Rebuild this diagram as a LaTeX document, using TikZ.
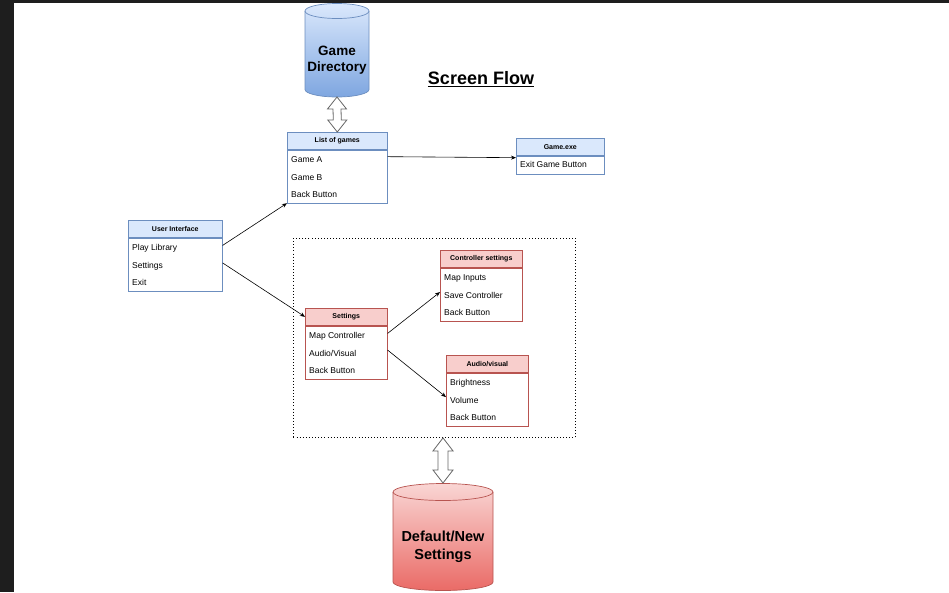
\documentclass[tikz,border=0pt]{standalone}
\usepackage{fontspec}
\setmainfont{Liberation Sans}
\usepackage{tikz}
\usetikzlibrary{calc,positioning,arrows.meta}
\definecolor{hdrblue}{HTML}{DAE8FC}
\definecolor{lnblue}{HTML}{6C8EBF}
\definecolor{cylblue}{HTML}{7EA6E0}
\definecolor{hdrred}{HTML}{F8CECC}
\definecolor{lnred}{HTML}{B85450}
\definecolor{cylred}{HTML}{EA6B66}
\definecolor{frame}{HTML}{1E1E1E}
\tikzset{
 sf hdr/.style={rectangle,draw,inner sep=0pt,minimum height=17pt,anchor=north west,
                font=\fontsize{7}{8}\selectfont\bfseries,line width=.6pt},
 sf hdr blue/.style={sf hdr,fill=hdrblue,draw=lnblue},
 sf hdr red/.style={sf hdr,fill=hdrred,draw=lnred},
 sf body/.style={rectangle,draw,fill=white,inner sep=0pt,minimum height=53pt,
                 anchor=north west,line width=.6pt},
 sf item/.style={anchor=base west,inner sep=0pt,font=\fontsize{8.5}{10}\selectfont},
 sf flow/.style={line width=.6pt,-{Stealth[length=5pt,width=4pt]}},
 sf hollow/.style={draw=black!60,fill=white,line width=.8pt,line join=miter},
 sf group/.style={rectangle,draw,dash pattern=on .9pt off 2.2pt,line width=.9pt,
                  anchor=north west,inner sep=0pt},
 sf cyl text/.style={font=\fontsize{13.5}{16}\selectfont\bfseries,align=center}
}

\begin{document}
\begin{tikzpicture}[x=1pt,y=1pt]
 \useasboundingbox (0,0) rectangle (949,-592);
 \clip (0,0) rectangle (949,-592);
 \fill[frame] (0,0) rectangle (14,-592);
 \fill[frame] (0,0) rectangle (949,-3);

 % game directory cylinder
 \shade[top color=hdrblue,bottom color=cylblue,draw=lnblue,line width=.7pt]
   (305,-11) -- (305,-89.5) arc[start angle=180,end angle=360,x radius=32,y radius=7.5]
   -- (369,-11) arc[start angle=0,end angle=180,x radius=32,y radius=7.5] -- cycle;
 \draw[lnblue,line width=.7pt] (305,-11) arc[start angle=180,end angle=360,x radius=32,y radius=7.5];
 \node[sf cyl text] (gdir) at (337,-60) {Game\\Directory};
 \coordinate (gdirb) at (337,-97);

 % default settings cylinder
 \shade[top color=hdrred!85,bottom color=cylred,draw=lnred,line width=.7pt]
   (393,-492) -- (393,-582) arc[start angle=180,end angle=360,x radius=50,y radius=8.5]
   -- (493,-492) arc[start angle=0,end angle=180,x radius=50,y radius=8.5] -- cycle;
 \draw[lnred,line width=.7pt] (393,-492) arc[start angle=180,end angle=360,x radius=50,y radius=8.5];
 \node[sf cyl text,font=\fontsize{14.5}{18}\selectfont\bfseries] (dns) at (443,-547) {Default/New\\Settings};
 \coordinate (dnst) at (443,-483);

 \node[font=\fontsize{18}{20}\selectfont\bfseries] (ttl) at (481,-79) {\underline{Screen Flow}};

 % settings group
 \node[sf group,minimum width=282pt,minimum height=199pt] (grp) at (293,-238) {};

 % screens
 \node[sf hdr blue,minimum width=100pt] (lsth) at (287,-132) {List of games};
 \node[sf body,draw=lnblue,minimum width=100pt] (lstb) at (lsth.south west) {};
 \node[sf hdr blue,minimum width=88pt] (exeh) at (516,-138) {Game.exe};
 \node[sf body,draw=lnblue,minimum width=88pt,minimum height=18pt] (exeb) at (exeh.south west) {};
 \node[sf hdr blue,minimum width=94pt] (uih) at (128,-220) {User Interface};
 \node[sf body,draw=lnblue,minimum width=94pt] (uib) at (uih.south west) {};
 \node[sf hdr red,minimum width=82pt] (seth) at (305,-308) {Settings};
 \node[sf body,draw=lnred,minimum width=82pt] (setb) at (seth.south west) {};
 \node[sf hdr red,minimum width=82pt] (ctlh) at (440,-250) {Controller settings};
 \node[sf body,draw=lnred,minimum width=82pt] (ctlb) at (ctlh.south west) {};
 \node[sf hdr red,minimum width=82pt] (avh) at (446,-355) {Audio/visual};
 \node[sf body,draw=lnred,minimum width=82pt] (avb) at (avh.south west) {};

 \foreach \b/\t in {lst/{Game A,Game B,Back Button},
                    ui/{Play Library,Settings,Exit},
                    set/{Map Controller,Audio/Visual,Back Button},
                    ctl/{Map Inputs,Save Controller,Back Button},
                    av/{Brightness,Volume,Back Button}}{
   \foreach \s [count=\i] in \t{
     \node[sf item] (\b\i) at ($(\b b.north west)+(4,{-13-(\i-1)*17.5})$) {\s};
   }
 }
 \node[sf item] (exe1) at ($(exeb.north west)+(4,-12)$) {Exit Game Button};

 % flows
 \draw[sf flow] ([yshift=3pt]uib.east |- ui1) -- (lstb.south west);
 \draw[sf flow] ([yshift=3pt]uib.east |- ui2) -- (seth.west);
 \draw[sf flow] ([yshift=3pt]lstb.east |- lst1) -- ([yshift=2pt]exeb.west |- lst1);
 \draw[sf flow] ([yshift=3pt]setb.east |- set1) -- ([yshift=3pt]ctlb.west |- ctl2);
 \draw[sf flow] ([yshift=3pt]setb.east |- set2) -- ([yshift=3pt]avb.west |- av2);

 % storage links
 \draw[sf hollow] (gdirb) -- ++(9.5,-12) -- ++(-5.5,0) -- ($(lsth.north)+(4,12)$)
   -- ++(5.5,0) -- (lsth.north) -- ++(-9.5,12) -- ++(5.5,0)
   -- ($(gdirb)+(-4,-12)$) -- ++(-5.5,0) -- cycle;
 \coordinate (grpb) at (dnst |- grp.south);
 \draw[sf hollow] (grpb) -- ++(10,-13) -- ++(-5,0) -- ($(dnst)+(5,13)$)
   -- ++(5,0) -- (dnst) -- ++(-10,13) -- ++(5,0)
   -- ($(grpb)+(-5,-13)$) -- ++(-5,0) -- cycle;
\end{tikzpicture}
\end{document}
